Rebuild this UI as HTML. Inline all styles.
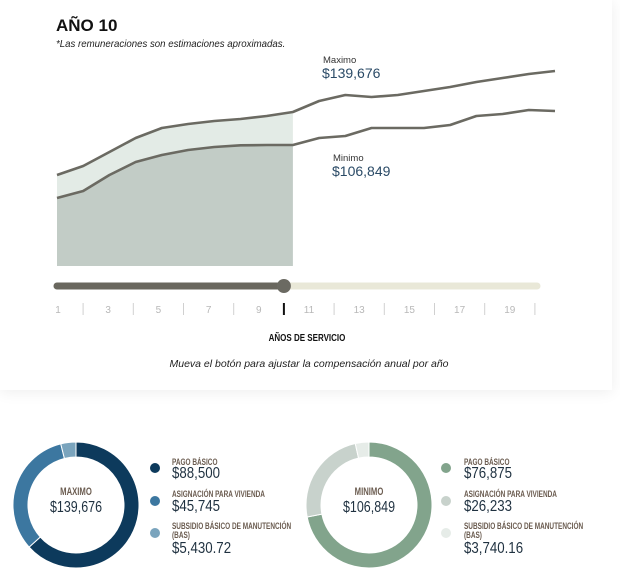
<!DOCTYPE html>
<html><head><meta charset="utf-8"><style>
body{margin:0;width:620px;height:576px;background:#fff;position:relative;overflow:hidden;font-family:"Liberation Sans",sans-serif}
#card{position:absolute;left:0;top:0;width:612px;height:390px;background:#fff;box-shadow:0 2px 14px rgba(0,0,0,0.07)}
.t{position:absolute;white-space:nowrap}
.lab{font-family:"Liberation Sans Narrow","Liberation Sans",sans-serif;font-weight:bold;font-size:9.5px;color:#6b5c50;line-height:9px;transform:scaleX(0.68);transform-origin:left}
.val{font-size:16px;color:#1f3140;line-height:16px;transform:scaleX(0.83);transform-origin:left}
.cl{font-family:"Liberation Sans",sans-serif;font-weight:bold;font-size:11px;color:#6b5c50;transform:translateX(-50%) scaleX(0.7)}
.cv{font-size:16px;color:#1f3140;transform:translateX(-50%) scaleX(0.78)}
</style></head><body>
<div id="card"></div>
<div class="t" style="left:56px;top:16px;font-weight:bold;font-size:17px;color:#111">AÑO 10</div>
<div class="t" style="left:56px;top:38px;font-style:italic;font-size:10.5px;color:#222;transform:scaleX(0.92);transform-origin:left">*Las remuneraciones son estimaciones aproximadas.</div>
<svg id="chart" width="620" height="400" style="position:absolute;left:0;top:0"></svg>
<div class="t" style="left:323px;top:55px;font-size:9.5px;color:#333">Maximo</div>
<div class="t" style="left:322px;top:65px;font-size:14px;color:#2a4a66">$139,676</div>
<div class="t" style="left:333px;top:153px;font-size:9.5px;color:#333">Minimo</div>
<div class="t" style="left:332px;top:163px;font-size:14px;color:#2a4a66">$106,849</div>
<div class="t" style="left:307px;top:333px;transform:translateX(-50%) scaleX(0.8);font-weight:bold;font-size:10px;color:#111">AÑOS DE SERVICIO</div>
<div class="t" style="left:309px;top:358px;transform:translateX(-50%);font-style:italic;font-size:10.5px;color:#222">Mueva el botón para ajustar la compensación anual por año</div>

<svg width="620" height="576" style="position:absolute;left:0;top:0" id="donuts"></svg>
<div class="t cl" style="left:76px;top:486px">MAXIMO</div>
<div class="t cv" style="left:76px;top:499px">$139,676</div>
<div class="t cl" style="left:369px;top:486px">MINIMO</div>
<div class="t cv" style="left:369px;top:499px">$106,849</div>

<div>
<div class="t" style="left:150px;top:463px;width:10px;height:10px;border-radius:50%;background:#0d3a5c"></div>
<div class="t lab" style="left:172px;top:458px">PAGO BÁSICO</div>
<div class="t val" style="left:172px;top:466px">$88,500</div>
<div class="t" style="left:150px;top:496px;width:10px;height:10px;border-radius:50%;background:#3c77a0"></div>
<div class="t lab" style="left:172px;top:490px">ASIGNACIÓN PARA VIVIENDA</div>
<div class="t val" style="left:172px;top:499px">$45,745</div>
<div class="t" style="left:150px;top:528px;width:10px;height:10px;border-radius:50%;background:#7aa4bd"></div>
<div class="t lab" style="left:172px;top:522px">SUBSIDIO BÁSICO DE MANUTENCIÓN<br>(BAS)</div>
<div class="t val" style="left:172px;top:541px">$5,430.72</div>
</div>
<div>
<div class="t" style="left:441px;top:463px;width:10px;height:10px;border-radius:50%;background:#82a48c"></div>
<div class="t lab" style="left:464px;top:458px">PAGO BÁSICO</div>
<div class="t val" style="left:464px;top:466px">$76,875</div>
<div class="t" style="left:441px;top:496px;width:10px;height:10px;border-radius:50%;background:#c8d2cc"></div>
<div class="t lab" style="left:464px;top:490px">ASIGNACIÓN PARA VIVIENDA</div>
<div class="t val" style="left:464px;top:499px">$26,233</div>
<div class="t" style="left:441px;top:528px;width:10px;height:10px;border-radius:50%;background:#e6ece8"></div>
<div class="t lab" style="left:464px;top:522px">SUBSIDIO BÁSICO DE MANUTENCIÓN<br>(BAS)</div>
<div class="t val" style="left:464px;top:541px">$3,740.16</div>
</div>

<script>
const years=[1,2,3,4,5,6,7,8,9,10,11,12,13,14,15,16,17,18,19,20];
const maxPay=[77000,85950,99880,113800,123760,127740,130720,132710,135700,139676,150620,156590,154600,156590,160570,164550,169530,173510,177490,180470];
const minPay=[54100,61070,76990,89930,96890,101870,104850,106500,106850,106849,113810,115800,123760,123760,123760,126740,135700,137690,141670,140670];
const selectedYear=10;
const tickLabels=["1","3","5","7","9","11","13","15","17","19"];
const maxParts=[88500,45745,5430.72];
const minParts=[76875,26233,3740.16];

const NS="http://www.w3.org/2000/svg";
function mk(parent,tag,attrs){const e=document.createElementNS(NS,tag);for(const k in attrs)e.setAttribute(k,attrs[k]);parent.appendChild(e);return e;}
const svg=document.getElementById('chart');
const x=y=>57+(y-1)*(555-57)/19;
const yv=v=>112-(v-139676)/995;
const base=266;
const sel=years.filter(y=>y<=selectedYear);
let band='',under='';
sel.forEach((yr,i)=>{band+=(i?'L':'M')+x(yr)+','+yv(maxPay[i]);});
for(let i=sel.length-1;i>=0;i--)band+='L'+x(sel[i])+','+yv(minPay[i]);
sel.forEach((yr,i)=>{under+=(i?'L':'M')+x(yr)+','+yv(minPay[i]);});
under+='L'+x(selectedYear)+','+base+'L'+x(1)+','+base+'Z';
let e=mk(svg,'path',{d:band+'Z',fill:'#e3ebe6'});

e=mk(svg,'path',{d:under,fill:'#c2ccc6'});

[[maxPay,'max-line'],[minPay,'min-line']].forEach(([arr,n])=>{
  const d=years.map((yr,i)=>(i?'L':'M')+x(yr)+','+yv(arr[i])).join('');
  const p=mk(svg,'path',{d:d,fill:'none',stroke:'#6b6a62','stroke-width':2.6,'stroke-linejoin':'round'});
  
});
const sx=y=>58+(y-1)*25.1;
e=mk(svg,'line',{x1:57,y1:286,x2:537,y2:286,stroke:'#e9e8d8','stroke-width':7,'stroke-linecap':'round'});

e=mk(svg,'line',{x1:57,y1:286,x2:sx(selectedYear),y2:286,stroke:'#69675e','stroke-width':7,'stroke-linecap':'round'});

tickLabels.forEach(t=>{
  const tx=mk(svg,'text',{x:sx(+t),y:313,'text-anchor':'middle','font-size':10,fill:'#b8b8b8','font-family':'Liberation Sans Narrow, Liberation Sans, sans-serif'});
  tx.textContent=t;
  
});
for(let y=2;y<=20;y+=2){
  const on=y===selectedYear;
  const l=mk(svg,'line',{x1:sx(y),y1:303,x2:sx(y),y2:315,stroke:on?'#111':'#d0d0d0','stroke-width':on?2:1});
  
}
e=mk(svg,'circle',{cx:sx(selectedYear),cy:286,r:7,fill:'#6b6a62'});


const dsvg=document.getElementById('donuts');
function donut(cx,cy,parts,colors,name){
  const tot=parts.reduce((a,b)=>a+b,0);const R=63,r=48;let a0=-Math.PI/2;
  parts.forEach((v,i)=>{
    const a1=a0+v/tot*2*Math.PI;const lg=(a1-a0)>Math.PI?1:0;
    const p=(rad,a)=>(cx+rad*Math.cos(a))+','+(cy+rad*Math.sin(a));
    const d='M'+p(R,a0)+'A'+R+','+R+' 0 '+lg+' 1 '+p(R,a1)+'L'+p(r,a1)+'A'+r+','+r+' 0 '+lg+' 0 '+p(r,a0)+'Z';
    const s=mk(dsvg,'path',{d:d,fill:colors[i],stroke:'#fff','stroke-width':1});
    
    a0=a1;
  });
}
donut(76,505,maxParts,['#0d3a5c','#3c77a0','#7aa4bd'],'max-donut');
donut(369,505,minParts,['#82a48c','#c8d2cc','#e6ece8'],'min-donut');
</script>
</body></html>
